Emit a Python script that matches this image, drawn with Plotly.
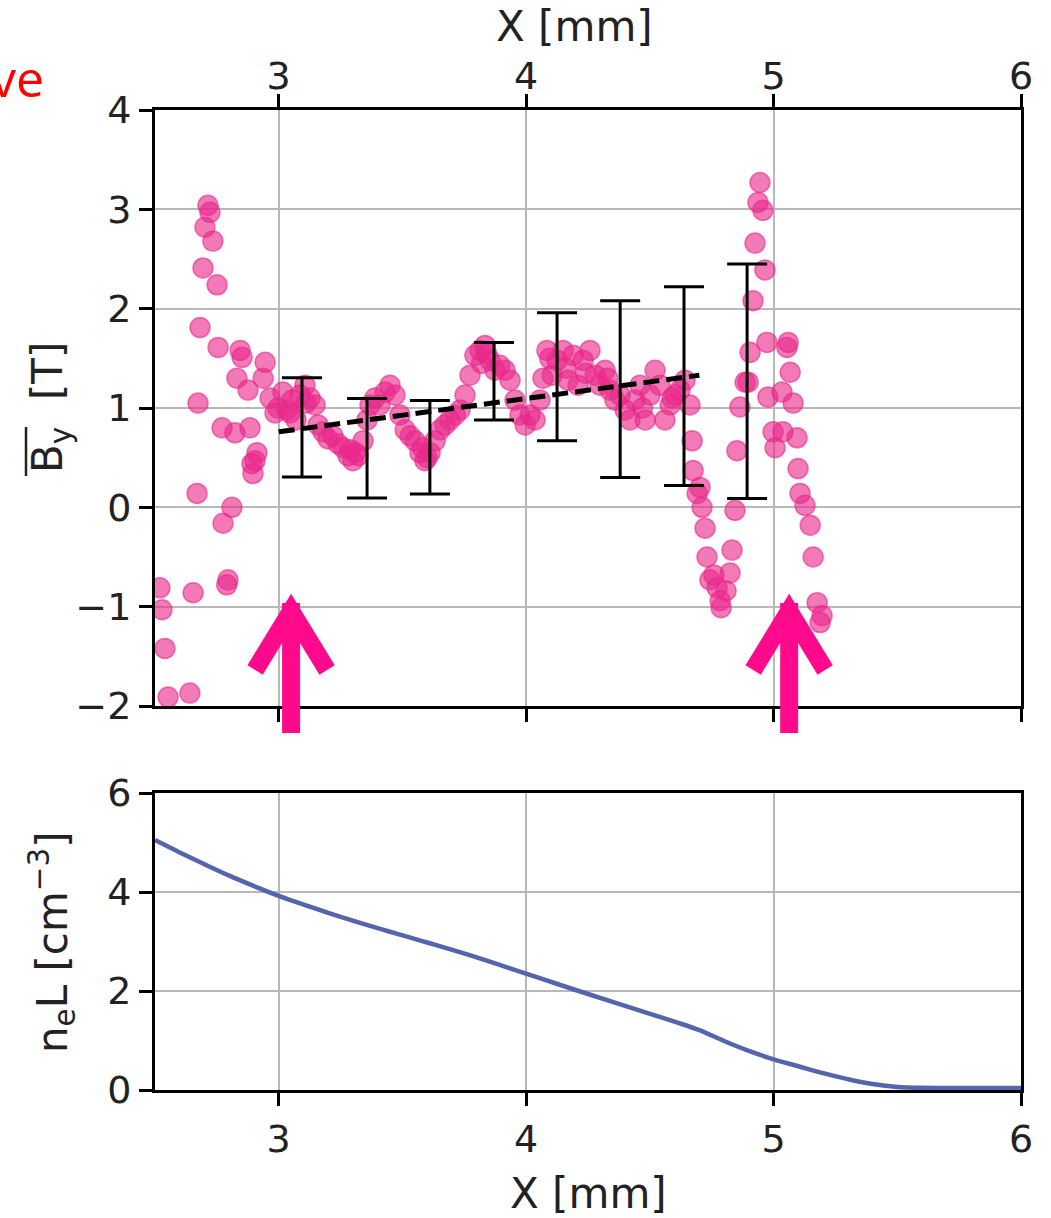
import plotly.graph_objects as go

# ---------------- data ----------------
# scattered B_y measurements [T] vs X [mm]
by_x = [2.520, 2.528, 2.540, 2.553, 2.641, 2.654, 2.670, 2.674, 2.682, 2.694,
        2.702, 2.714, 2.722, 2.734, 2.751, 2.755, 2.771, 2.775, 2.795, 2.790,
        2.811, 2.823, 2.831, 2.844, 2.852, 2.876, 2.884, 2.892, 2.896, 2.904,
        2.912, 2.937, 2.945, 2.965, 2.985, 2.997,
        3.017, 3.034, 3.054, 3.070, 3.086, 3.106, 3.127, 3.147, 3.159, 3.179,
        3.199, 3.219, 3.240, 3.260, 3.280, 3.300, 3.321, 3.341, 3.357, 3.369,
        3.389, 3.409, 3.430, 3.450, 3.470, 3.490, 3.511, 3.531, 3.551, 3.571,
        3.591, 3.612, 3.632, 3.652, 3.672, 3.692, 3.713, 3.733, 3.753, 3.773,
        3.793, 3.814, 3.834, 3.854, 3.874, 3.894, 3.915, 3.935, 3.955, 3.975,
        3.996, 4.016, 4.036, 4.056, 4.068, 4.084, 4.105, 4.125, 4.149, 4.169,
        4.190, 4.210, 4.230, 4.258, 4.279, 4.299, 4.319, 4.339, 4.359, 4.380,
        4.400, 4.420, 4.440, 4.460, 4.481, 4.501, 4.521, 4.541, 4.561, 4.582,
        4.602, 4.622, 4.642, 4.662,
        4.671, 4.675, 4.691, 4.703, 4.711, 4.723, 4.731, 4.743, 4.759, 4.772,
        4.784, 4.788, 4.808, 4.824, 4.832, 4.844, 4.852, 4.864, 4.885, 4.897,
        4.905, 4.917, 4.925, 4.937, 4.945, 4.957, 4.965, 4.973, 4.977, 4.998,
        5.006, 5.034, 5.038, 5.054, 5.059, 5.067, 5.079, 5.095, 5.099, 5.107,
        5.127, 5.148, 5.160, 5.176, 5.188, 5.196,
        3.045, 3.110, 3.290, 3.310, 3.580, 3.600, 3.820, 3.840, 4.095, 4.160,
        4.240, 4.330, 4.470, 4.590]
by_y = [-0.81, -1.03, -1.42, -1.91, -1.87, -0.86, 0.14, 1.05, 1.81, 2.41,
        2.82, 3.04, 2.97, 2.68, 2.24, 1.61, 0.80, -0.16, -0.73, -0.78,
        0.00, 0.75, 1.30, 1.58, 1.51, 1.18, 0.80, 0.44, 0.34, 0.47,
        0.55, 1.30, 1.46, 1.10, 0.95, 1.00,
        1.16, 0.98, 1.08, 0.88, 1.13, 1.23, 1.10, 1.03, 0.83, 0.76,
        0.69, 0.72, 0.64, 0.60, 0.52, 0.47, 0.52, 0.67, 0.88, 1.03,
        1.10, 1.03, 1.16, 1.23, 1.13, 0.93, 0.78, 0.72, 0.67, 0.55,
        0.47, 0.55, 0.67, 0.78, 0.83, 0.88, 0.93, 0.98, 1.13, 1.33,
        1.53, 1.58, 1.63, 1.48, 1.38, 1.43, 1.38, 1.28, 1.08, 0.93,
        0.83, 0.93, 0.88, 1.08, 1.30, 1.58, 1.33, 1.48, 1.58, 1.28,
        1.53, 1.23, 1.48, 1.58, 1.33, 1.23, 1.38, 1.18, 1.08, 1.13,
        0.98, 0.88, 1.08, 1.23, 0.88, 1.13, 1.38, 1.23, 0.88, 1.03,
        1.13, 1.18, 1.28, 1.03,
        0.67, 0.37, 0.14, 0.20, 0.00, -0.21, -0.50, -0.73, -0.68, -0.81,
        -0.94, -1.01, -0.84, -0.66, -0.43, -0.03, 0.57, 1.01, 1.26, 1.26,
        1.56, 2.08, 2.66, 3.07, 3.27, 2.99, 2.39, 1.66, 1.11, 0.76,
        0.60, 1.16, 0.76, 1.61, 1.66, 1.36, 1.05, 0.70, 0.39, 0.14,
        0.02, -0.18, -0.50, -0.96, -1.16, -1.09,
        0.95, 1.05, 0.58, 0.55, 0.60, 0.50, 1.45, 1.55, 1.50, 1.40,
        1.35, 1.30, 1.00, 1.10]

# binned means with error bars
bin_x = [3.094, 3.357, 3.611, 3.870, 4.125, 4.380, 4.638, 4.893]
bin_y = [0.805, 0.595, 0.605, 1.27, 1.315, 1.19, 1.22, 1.27]
bin_err = [0.50, 0.50, 0.47, 0.39, 0.645, 0.89, 1.00, 1.18]

# linear fit (dashed)
fit_x = [3.0, 4.7]
fit_y = [0.76, 1.33]

# line-integrated density n_e L
ne_x = [2.5, 2.6, 2.7, 2.8, 2.9, 3.0, 3.2, 3.4, 3.6, 3.8, 4.0, 4.2, 4.4,
        4.6, 4.7, 4.8, 4.9, 5.0, 5.1, 5.2, 5.3, 5.4, 5.5, 5.6, 5.8, 6.0]
ne_y = [5.05, 4.80, 4.56, 4.33, 4.12, 3.92, 3.58, 3.27, 2.98, 2.68, 2.35,
        2.02, 1.70, 1.38, 1.21, 0.99, 0.79, 0.62, 0.48, 0.34, 0.22, 0.12,
        0.06, 0.045, 0.04, 0.04]

# arrow positions [mm]
arrow_x = [3.05, 5.063]

x_ticks = [3, 4, 5, 6]
y1_ticks = [-2, -1, 0, 1, 2, 3, 4]
y2_ticks = [0, 2, 4, 6]
x_range = [2.5, 6.0]
y1_range = [-2, 4]
y2_range = [0, 6]

# ---------------- geometry ----------------
W, H = 1051, 1218
ML, MR, MT, MB = 155, 30, 110, 128
PW, PH = W - ML - MR, H - MT - MB


def pxx(p):
    return (p - ML) / PW


def pxy(p):
    return (H - MB - p) / PH


top_dom = [pxy(706), 1.0]
bot_dom = [0.0, pxy(793)]

FONT = "DejaVu Sans"
PINK = "rgba(232, 40, 138, 0.62)"
ARROW = "#FF0A8C"
TXT = "#222"

fig = go.Figure()

fig.add_trace(go.Scatter(
    x=by_x, y=by_y, mode="markers", xaxis="x", yaxis="y",
    marker=dict(size=20, color=PINK, line=dict(width=1.5, color=PINK)),
    showlegend=False, hoverinfo="skip"))

fig.add_trace(go.Scatter(
    x=bin_x, y=bin_y, mode="markers", xaxis="x", yaxis="y",
    marker=dict(size=2, color="rgba(0,0,0,0)"),
    error_y=dict(type="data", array=bin_err, color="black", thickness=3, width=20),
    showlegend=False, hoverinfo="skip"))

fig.add_trace(go.Scatter(
    x=fit_x, y=fit_y, mode="lines", xaxis="x", yaxis="y",
    line=dict(color="black", width=5, dash="16px,7px"),
    showlegend=False, hoverinfo="skip"))

fig.add_trace(go.Scatter(
    x=ne_x, y=ne_y, mode="lines", xaxis="x2", yaxis="y2",
    line=dict(color="#5565ad", width=4.5, shape="spline"),
    showlegend=False, hoverinfo="skip"))

# invisible trace to carry the top tick-label axis
fig.add_trace(go.Scatter(
    x=x_range, y=[None, None], mode="markers", xaxis="x3", yaxis="y",
    showlegend=False, hoverinfo="skip"))

axis_common = dict(
    showline=True, linecolor="black", linewidth=3,
    ticks="outside", ticklen=13, tickwidth=2.5, tickcolor="black",
    showgrid=True, gridcolor="#b8b8b8", gridwidth=2,
    zeroline=False, tickfont=dict(family=FONT, size=38, color=TXT),
)

fig.update_layout(
    width=W, height=H,
    margin=dict(l=ML, r=MR, t=MT, b=MB),
    paper_bgcolor="white", plot_bgcolor="white",
    xaxis=dict(range=x_range, tickvals=x_ticks, side="bottom", anchor="y",
               mirror="ticks", showticklabels=False, domain=[0, 1], **axis_common),
    xaxis3=dict(range=x_range, tickvals=x_ticks, side="top", anchor="y",
                overlaying="x", ticks="", showline=False, showgrid=False,
                ticklabelstandoff=12,
                zeroline=False, tickfont=dict(family=FONT, size=38, color=TXT)),
    yaxis=dict(range=y1_range, tickvals=y1_ticks, domain=top_dom, anchor="x",
               mirror=True, **axis_common),
    xaxis2=dict(range=x_range, tickvals=x_ticks, side="bottom", anchor="y2",
                mirror=True, domain=[0, 1], **axis_common),
    yaxis2=dict(range=y2_range, tickvals=y2_ticks, domain=bot_dom, anchor="x2",
                mirror=True, **axis_common),
)

title_font = dict(family=FONT, size=42, color=TXT)
ann = [
    dict(text="X [mm]", x=pxx(574), y=pxy(27), xref="paper", yref="paper",
         showarrow=False, font=title_font, xanchor="center", yanchor="middle"),
    dict(text="X [mm]", x=pxx(588), y=pxy(1193), xref="paper", yref="paper",
         showarrow=False, font=title_font, xanchor="center", yanchor="middle"),
    dict(text="B<sub>y</sub>  [T]", x=pxx(50), y=pxy(408), xref="paper", yref="paper",
         showarrow=False, font=title_font, textangle=-90,
         xanchor="center", yanchor="middle"),
    dict(text="n<sub>e</sub>L [cm<sup>\u22123</sup>]", x=pxx(52), y=pxy(942),
         xref="paper", yref="paper", showarrow=False, font=title_font,
         textangle=-90, xanchor="center", yanchor="middle"),
    dict(text="ve", x=pxx(46), y=pxy(78), xref="paper", yref="paper",
         showarrow=False, font=dict(family="Open Sans", size=50, color="red"),
         xanchor="right", yanchor="middle"),
]

shapes = [
    # overline on B_y
    dict(type="line", xref="paper", yref="paper",
         x0=pxx(26), x1=pxx(26), y0=pxy(427), y1=pxy(476),
         line=dict(color=TXT, width=2.5)),
]

for ax in arrow_x:
    xc = (ax - x_range[0]) / (x_range[1] - x_range[0])
    half = 36 / PW
    yv = pxy(611)
    yw = pxy(670)
    shapes.append(dict(type="path", xref="paper", yref="paper", layer="above",
                       path=f"M {xc - half},{yw} L {xc},{yv} L {xc + half},{yw}",
                       line=dict(color=ARROW, width=18)))
    shapes.append(dict(type="line", xref="paper", yref="paper", layer="above",
                       x0=xc, x1=xc, y0=pxy(603), y1=pxy(733),
                       line=dict(color=ARROW, width=18)))

fig.update_layout(annotations=ann, shapes=shapes)

fig.write_html("out.html")
